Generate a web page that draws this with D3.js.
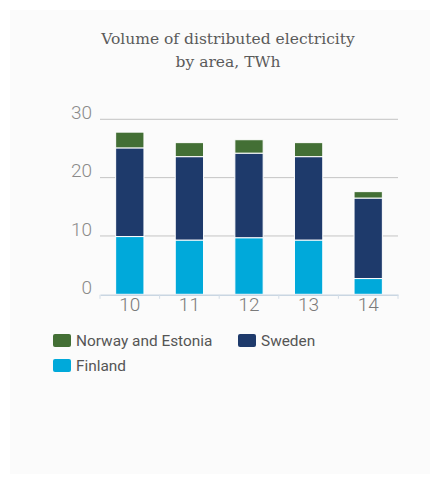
<!DOCTYPE html>
<html>
<head>
<meta charset="utf-8">
<script src="https://cdn.jsdelivr.net/npm/d3@7"></script>
<style>
  html, body { margin: 0; padding: 0; background: #fff; }
  svg { display: block; }
</style>
</head>
<body>
<svg id="chart" width="436" height="484"></svg>
<script>
// Distributed electricity by area, TWh
const years = ["10", "11", "12", "13", "14"];
const finland = [9.9, 9.3, 9.7, 9.3, 2.7];
const sweden = [15.2, 14.3, 14.5, 14.3, 13.8];
const norwayEstonia = [2.7, 2.4, 2.3, 2.4, 1.1];
const yTicks = [0, 10, 20, 30];

const seriesNames = ["Finland", "Sweden", "Norway and Estonia"];
const seriesColors = { "Finland": "#00a9da", "Sweden": "#1e3a6b", "Norway and Estonia": "#436f35" };
const legendOrder = [["Norway and Estonia", "Sweden"], ["Finland"]];

const rows = years.map((y, i) => ({
  year: y,
  "Finland": finland[i],
  "Sweden": sweden[i],
  "Norway and Estonia": norwayEstonia[i]
}));

const svg = d3.select("#chart");

// panel
svg.append("rect").attr("x", 10).attr("y", 10).attr("width", 420).attr("height", 464)
  .attr("fill", "#fbfbfb");

// title
const title = svg.append("text")
  .attr("text-anchor", "middle")
  .attr("font-family", "'DejaVu Serif', serif")
  .attr("font-size", 15.5)
  .attr("fill", "#5a5a5a");
title.append("tspan").attr("x", 228).attr("y", 44).text("Volume of distributed electricity");
title.append("tspan").attr("x", 228).attr("y", 67).text("by area, TWh");

const x = d3.scaleBand().domain(years).range([100, 398]).paddingInner(0.525).paddingOuter(0.2625);
const y = d3.scaleLinear().domain([0, 30]).range([294.3, 119.3]);

// gridlines
svg.append("g").selectAll("line").data(yTicks.filter(t => t > 0)).join("line")
  .attr("x1", 100).attr("x2", 398)
  .attr("y1", d => y(d)).attr("y2", d => y(d))
  .attr("stroke", "#c4c4c4").attr("stroke-width", 1);

// y labels
svg.append("g").selectAll("text").data(yTicks).join("text")
  .attr("x", 92).attr("y", d => y(d) - 0.3)
  .attr("text-anchor", "end")
  .attr("font-family", "Roboto, sans-serif")
  .attr("font-weight", 300)
  .attr("font-size", 19)
  .attr("fill", "#8a8a8a")
  .text(d => d);

// stacked bars
const stacked = d3.stack().keys(seriesNames)(rows);
svg.append("g").selectAll("g").data(stacked).join("g")
  .attr("fill", d => seriesColors[d.key])
  .selectAll("rect").data(d => d).join("rect")
  .attr("x", d => x(d.data.year))
  .attr("width", x.bandwidth())
  .attr("y", d => y(d[1]))
  .attr("height", d => y(d[0]) - y(d[1]))
  .attr("stroke", "#ffffff").attr("stroke-width", 1);

// x axis
const xAxis = d3.axisBottom(x).tickSize(0).tickPadding(0);
const gx = svg.append("g").attr("transform", "translate(0,294.8)").call(xAxis);
gx.select(".domain").attr("stroke", "#c9d6e2").attr("stroke-width", 1.5);
gx.selectAll("text")
  .attr("font-family", "Roboto, sans-serif")
  .attr("font-weight", 300)
  .attr("font-size", 19)
  .attr("fill", "#7a7a7a")
  .attr("y", 16.2)
  .attr("dy", null);
// band separators on the axis
const edges = years.map(yr => x(yr) - x.step() * x.paddingInner() / 2).concat([398]);
edges[0] = 100;
gx.selectAll(".sep").data(edges).join("line").attr("class", "sep")
  .attr("x1", d => d).attr("x2", d => d).attr("y1", 0).attr("y2", 4)
  .attr("stroke", "#d3dde7").attr("stroke-width", 1);

// legend
const legend = svg.append("g");
legendOrder.forEach((row, r) => {
  row.forEach((name, c) => {
    const gx0 = 53 + c * 185, gy0 = 334 + r * 25;
    legend.append("rect").attr("x", gx0).attr("y", gy0).attr("width", 18).attr("height", 13)
      .attr("rx", 2).attr("fill", seriesColors[name]);
    legend.append("text").attr("x", gx0 + 23).attr("y", gy0 + 12)
      .attr("font-family", "Roboto, sans-serif")
      .attr("font-size", 15.4)
      .attr("fill", "#555")
      .text(name);
  });
});
</script>
</body>
</html>
